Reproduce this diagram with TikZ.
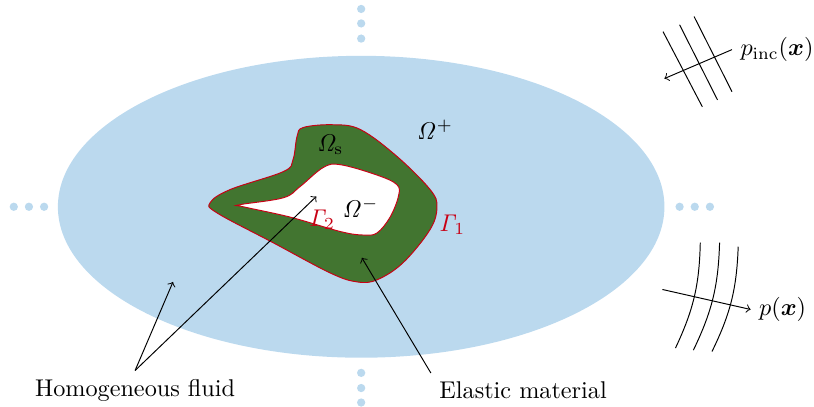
\documentclass[tikz,border=0pt]{standalone}
\usepackage{amsmath}
\usepackage{bm}
\usetikzlibrary{calc}

\definecolor{fluidblue}{RGB}{187,217,238}
\definecolor{solidgreen}{RGB}{66,117,48}
\definecolor{interfacered}{RGB}{200,0,20}

\begin{document}
\begin{tikzpicture}[>=to]
\def\xRadius{4.4}
\def\yRadius{2.19}
\def\dotRadius{0.06}

\useasboundingbox (-5.24,-2.90) rectangle (6.57,3.00);

%fluid domain
\fill[fluidblue] (0,0) ellipse [x radius = \xRadius, y radius = \yRadius];

%dots for the unbounded domain
\foreach \t in {4.60,4.82,5.04}{
  \fill[fluidblue] (-\t,0) circle (\dotRadius);
  \fill[fluidblue] (\t+0.02,0) circle (\dotRadius);
}
\foreach \t in {2.44,2.66,2.87}{
  \fill[fluidblue] (0,\t) circle (\dotRadius);
  \fill[fluidblue] (0,-\t+0.03) circle (\dotRadius);
}

%elastic body
\draw[interfacered, fill = solidgreen] plot[smooth cycle, tension = 0.6] coordinates {
  (-2.19,0.06) (-1.90,0.25) (-1.13,0.51) (-0.99,0.68) (-0.93,1.02) (-0.84,1.15)
  (-0.41,1.19) (-0.01,1.12) (0.52,0.73) (1.00,0.25) (1.10,0.00) (1.00,-0.33)
  (0.61,-0.81) (0.23,-1.06) (-0.06,-1.09) (-0.45,-0.96) (-1.28,-0.52) (-2.09,-0.09)};
\draw[interfacered, fill = white] plot[smooth cycle, tension = 0.6] coordinates {
  (-1.76,0.03) (-1.13,0.13) (-0.89,0.29) (-0.55,0.57) (-0.30,0.61) (0.23,0.46)
  (0.52,0.32) (0.54,0.15) (0.42,-0.15) (0.23,-0.38) (0.03,-0.41) (-0.30,-0.36)
  (-1.03,-0.15) (-1.71,0.00)};

%labels
\node (solid) at (-0.45,0.90) {$\mathit{\Omega}_{\mathrm{s}}$};
\node (outer) at (1.07,1.12) {$\mathit{\Omega}^{+}$};
\node (inner) at (-0.01,-0.01) {$\mathit{\Omega}^{-}$};
\node[interfacered] (gtwo) at (-0.57,-0.19) {$\mathit{\Gamma}_{2}$};
\node[interfacered] (gone) at (1.32,-0.26) {$\mathit{\Gamma}_{1}$};

\node (fluid) at (-3.28,-2.66) {Homogeneous fluid};
\node (elastic) at (2.35,-2.66) {Elastic material};

\coordinate (F1) at (-2.73,-1.09);
\coordinate (F2) at (-0.65,0.15);
\coordinate (E1) at (0.01,-0.74);
\draw[->] (fluid.north) -- (F1);
\draw[->] (fluid.north) -- (F2);
\draw[->] (elastic.north west) -- (E1);

%incident wave
\draw (4.38,2.54) -- (4.95,1.45);
\draw (4.62,2.64) -- (5.17,1.55);
\draw (4.83,2.76) -- (5.38,1.67);
\node[anchor = west] (pinc) at (5.38,2.28) {$p_{\mathrm{inc}}(\bm{x})$};
\coordinate (I1) at (4.40,1.86);
\draw[->] (pinc.west) -- (I1);

%scattered wave
\draw (4.92,-0.52) to[bend left = 12] (4.56,-2.05);
\draw (5.20,-0.52) to[bend left = 12] (4.82,-2.08);
\draw (5.47,-0.58) to[bend left = 12] (5.09,-2.10);
\coordinate (S0) at (4.37,-1.20);
\node[anchor = west] (pscat) at (5.65,-1.49) {$p(\bm{x})$};
\draw[->] (S0) -- (pscat.west);

\end{tikzpicture}
\end{document}
